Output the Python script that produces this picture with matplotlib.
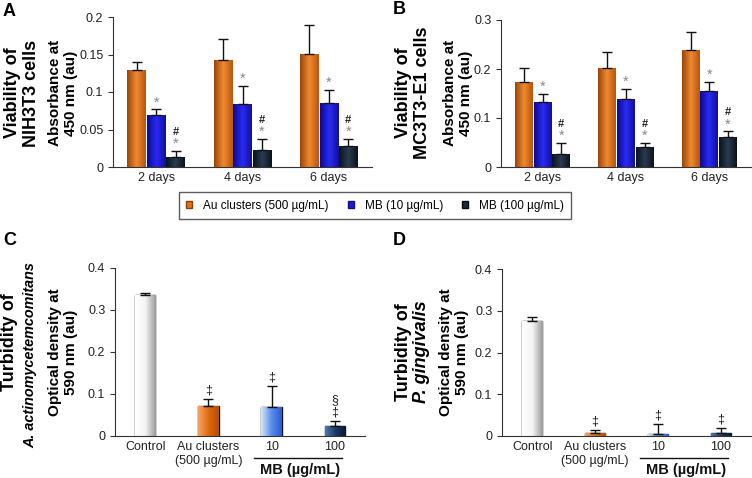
import numpy as np
import matplotlib
matplotlib.use("Agg")
import matplotlib.pyplot as plt
from matplotlib.colors import LinearSegmentedColormap
from matplotlib.patches import Patch

plt.rcParams['font.family'] = ['Liberation Sans', 'DejaVu Sans']

# Panel A / B: viability (absorbance at 450 nm)
days = ["2 days", "4 days", "6 days"]
a_au = [0.130, 0.143, 0.151]
a_au_err = [0.010, 0.028, 0.039]
a_mb10 = [0.070, 0.084, 0.085]
a_mb10_err = [0.007, 0.024, 0.018]
a_mb100 = [0.014, 0.023, 0.028]
a_mb100_err = [0.008, 0.015, 0.010]

b_au = [0.173, 0.203, 0.239]
b_au_err = [0.030, 0.032, 0.036]
b_mb10 = [0.132, 0.138, 0.156]
b_mb10_err = [0.018, 0.021, 0.018]
b_mb100 = [0.026, 0.041, 0.061]
b_mb100_err = [0.023, 0.009, 0.012]

# Panel C / D: turbidity (OD 590 nm)
groups = ["Control", "Au clusters\n(500 µg/mL)", "10", "100"]
c_vals = [0.335, 0.071, 0.068, 0.024]
c_err = [0.005, 0.018, 0.051, 0.011]
d_vals = [0.275, 0.006, 0.005, 0.006]
d_err = [0.011, 0.008, 0.023, 0.014]

c_marks = ["", "‡", "‡", "§\n‡"]
d_marks = ["", "‡", "‡", "‡"]

legend_labels = ["Au clusters (500 µg/mL)", "MB (10 µg/mL)", "MB (100 µg/mL)"]
orange = "#E2721A"
blue = "#1A1AE0"
navy = "#1B2B3B"


def grad_fill(ax, bar, colors):
    x, y = bar.get_xy()
    w, h = bar.get_width(), bar.get_height()
    cmap = LinearSegmentedColormap.from_list("g", colors)
    img = ax.imshow(np.linspace(0, 1, 64)[None, :], extent=[x, x + w, y, y + h],
                    aspect="auto", cmap=cmap, zorder=2)
    img.set_clip_path(bar)
    bar.set_facecolor("none")


def style_ax(ax, ylim, yticks, ylabels):
    for s in ["top", "right"]:
        ax.spines[s].set_visible(False)
    ax.spines["left"].set_color("#333333")
    ax.spines["bottom"].set_color("#333333")
    ax.set_ylim(*ylim)
    ax.set_yticks(yticks)
    ax.set_yticklabels(ylabels, fontsize=9, color="#222222")
    ax.tick_params(axis="y", length=3.5, width=0.8, color="#333333")
    ax.tick_params(axis="x", length=0, labelsize=9, labelcolor="#222222")


def mark(ax, x, y, s, dy, **kw):
    ax.annotate(s, (x, y), xytext=(0, dy), textcoords="offset points",
                ha="center", va="center", **kw)


def viability_panel(ax, au, au_e, mb10, mb10_e, mb100, mb100_e, ylim, yticks, ylabels):
    x = np.arange(len(days))
    w = 0.215
    series = [(au, au_e, -0.225, ["#9A4608", "#F08A30", "#B85510"], ""),
              (mb10, mb10_e, 0.0, ["#0A0A90", "#2A2AF5", "#10109A"], "*"),
              (mb100, mb100_e, 0.225, ["#0A121C", "#2A3C50", "#0A121C"], "#*")]
    for vals, errs, off, cols, m in series:
        bars = ax.bar(x + off, vals, w, edgecolor="none", zorder=2)
        for b in bars:
            grad_fill(ax, b, cols)
        ax.errorbar(x + off, vals, yerr=[np.zeros(len(vals)), errs], fmt="none",
                    ecolor="#111111", elinewidth=1, capsize=3.3, capthick=1, zorder=3)
        for xi, v, e in zip(x + off, vals, errs):
            if "*" in m:
                mark(ax, xi, v + e, "*", 5.0, fontsize=10.5, color="#888888")
            if "#" in m:
                mark(ax, xi, v + e, "#", 13.5, fontsize=8, color="#222222",
                     fontweight="bold")
    ax.set_xlim(-0.5, 2.5)
    ax.set_xticks(x)
    ax.set_xticklabels(days)
    style_ax(ax, ylim, yticks, ylabels)


def turbidity_panel(ax, vals, errs, marks):
    x = np.arange(len(groups))
    w = 0.32
    grads = [["#FFFFFF", "#F4F4F4", "#9A9A9A"],
             ["#F6A460", "#E06A12", "#B04E06"],
             ["#D6E6FA", "#5A8EEA", "#2A5CD0"],
             ["#4C7AAE", "#1C3A66", "#0A1830"]]
    bars = ax.bar(x, vals, w, edgecolor="#111111", linewidth=1.0, zorder=2)
    for b, g in zip(bars, grads):
        grad_fill(ax, b, g)
    ax.errorbar(x, vals, yerr=[np.zeros(len(vals)), errs], fmt="none",
                ecolor="#111111", elinewidth=1, capsize=3.3, capthick=1, zorder=3)
    for xi, v, e, m in zip(x, vals, errs, marks):
        if m:
            ax.text(xi, v + e + 0.006, m, ha="center", va="bottom", fontsize=9,
                    color="#222222", linespacing=1.1)
    ax.set_xlim(-0.48, 3.48)
    ax.set_xticks(x)
    ax.set_xticklabels(groups, fontsize=9)
    style_ax(ax, (0, 0.4), [0, 0.1, 0.2, 0.3, 0.4], ["0", "0.1", "0.2", "0.3", "0.4"])
    ax.plot([1.72, 3.12], [-0.053, -0.053], color="#111111", lw=1, clip_on=False)
    ax.text(2.45, -0.064, "MB (µg/mL)", ha="center", va="top", fontsize=10.5,
            fontweight="bold", color="#111111")


fig = plt.figure(figsize=(7.52, 4.78), dpi=100)
W, H = 752, 478


def add_axes(l, r, top, bot):
    return fig.add_axes([l / W, 1 - bot / H, (r - l) / W, (bot - top) / H])


axA = add_axes(113, 372, 17, 167)
axB = add_axes(501, 751, 20, 167)
axC = add_axes(115, 365, 268, 436)
axD = add_axes(502, 751, 269, 436)

viability_panel(axA, a_au, a_au_err, a_mb10, a_mb10_err, a_mb100, a_mb100_err,
                (0, 0.2), [0, 0.05, 0.1, 0.15, 0.2], ["0", "0.05", "0.1", "0.15", "0.2"])
viability_panel(axB, b_au, b_au_err, b_mb10, b_mb10_err, b_mb100, b_mb100_err,
                (0, 0.3), [0, 0.1, 0.2, 0.3], ["0", "0.1", "0.2", "0.3"])
turbidity_panel(axC, c_vals, c_err, c_marks)
turbidity_panel(axD, d_vals, d_err, d_marks)


def ftext(x, y, s, **kw):
    fig.text(x / W, 1 - y / H, s, **kw)


# panel letters
for lx, ly, s in [(3, 11, "A"), (393, 9, "B"), (3, 241, "C"), (393, 241, "D")]:
    ftext(lx, ly, s, fontsize=13, fontweight="bold", ha="left", va="center")

# y labels
big = dict(fontsize=13, fontweight="bold", rotation=90, ha="center", va="center",
           multialignment="center", linespacing=1.15)
small = dict(fontsize=11, fontweight="bold", rotation=90, ha="center", va="center",
             multialignment="center", linespacing=1.15)
ftext(22, 93, "Viability of\nNIH3T3 cells", **big)
ftext(63, 93, "Absorbance at\n450 nm (au)", **small)
ftext(413, 93, "Viability of\nMC3T3-E1 cells", **big)
ftext(458, 93, "Absorbance at\n450 nm (au)", **small)
ftext(10, 342, "Turbidity of", **big)
ftext(30, 355, "A. actinomycetemcomitans", fontsize=10.4, fontweight="bold",
      fontstyle="italic", rotation=90, ha="center", va="center")
ftext(63, 352, "Optical density at\n590 nm (au)", **small)
ftext(403, 352, "Turbidity of", **big)
ftext(422, 352, "P. gingivalis", fontsize=13, fontweight="bold",
      fontstyle="italic", rotation=90, ha="center", va="center")
ftext(454, 352, "Optical density at\n590 nm (au)", **small)

handles = [Patch(facecolor=orange, edgecolor="#8A4008"),
           Patch(facecolor=blue, edgecolor="#10107A"),
           Patch(facecolor=navy, edgecolor="#0A0A0A")]
leg = fig.legend(handles, legend_labels, ncol=3, loc="center",
                 bbox_to_anchor=(375 / W, 1 - 205.5 / H), fontsize=8.5,
                 frameon=True, fancybox=False, edgecolor="#333333",
                 handlelength=0.55, handleheight=0.55, columnspacing=1.6,
                 handletextpad=0.9, borderpad=0.6)
leg.get_frame().set_linewidth(1.0)

fig.savefig("out.png", dpi=100)
